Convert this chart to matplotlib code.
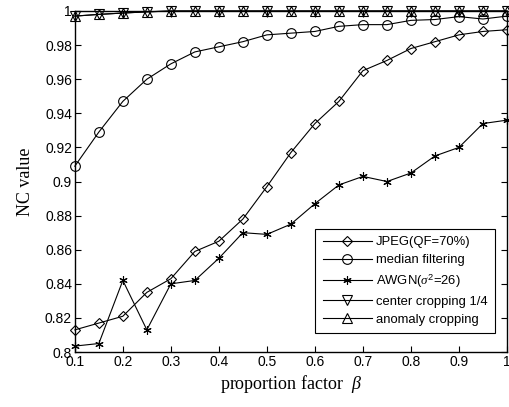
import numpy as np
import matplotlib.pyplot as plt

plt.rcParams['font.family'] = ['Liberation Sans', 'DejaVu Sans']
plt.rcParams['mathtext.fontset'] = 'custom'
plt.rcParams['mathtext.it'] = 'Liberation Serif:italic'
plt.rcParams['mathtext.rm'] = 'Liberation Sans'

# proportion factor beta
beta = [0.1, 0.15, 0.2, 0.25, 0.3, 0.35, 0.4, 0.45, 0.5, 0.55,
        0.6, 0.65, 0.7, 0.75, 0.8, 0.85, 0.9, 0.95, 1.0]

jpeg = [0.813, 0.817, 0.821, 0.835, 0.843, 0.859, 0.865, 0.878, 0.897, 0.917,
        0.934, 0.947, 0.965, 0.971, 0.978, 0.982, 0.986, 0.988, 0.989]
median = [0.909, 0.929, 0.947, 0.960, 0.969, 0.976, 0.979, 0.982, 0.986, 0.987,
          0.988, 0.991, 0.992, 0.992, 0.9945, 0.995, 0.9967, 0.9953, 0.997]
awgn = [0.8035, 0.805, 0.842, 0.813, 0.840, 0.842, 0.855, 0.870, 0.869, 0.875,
        0.887, 0.898, 0.903, 0.900, 0.905, 0.915, 0.920, 0.934, 0.936]
center = [0.997, 0.998, 0.9988, 0.9995, 1.0, 1.0, 1.0, 1.0, 1.0, 1.0,
          1.0, 1.0, 1.0, 1.0, 1.0, 1.0, 1.0, 1.0, 1.0]
anomaly = [0.997, 0.998, 0.9988, 0.9995, 1.0, 1.0, 1.0, 1.0, 1.0, 1.0,
           1.0, 1.0, 1.0, 1.0, 1.0, 1.0, 1.0, 1.0, 1.0]

fig = plt.figure(figsize=(5.09, 4.07), dpi=100)
ax = fig.add_axes([0.147, 0.135, 0.849, 0.838])

style = dict(color='k', linewidth=0.8, markerfacecolor='none',
             markeredgecolor='k', markeredgewidth=0.8, clip_on=False)
ax.plot(beta, jpeg, marker='D', markersize=5.5, label='JPEG(QF=70%)', **style)
ax.plot(beta, median, marker='o', markersize=7, label='median filtering', **style)
ax.plot(beta, awgn, marker=(6, 2, 0), markersize=6, label=r'AWGN($\sigma^2$=26)', **style)
ax.plot(beta, center, marker='v', markersize=7, label='center cropping 1/4', **style)
ax.plot(beta, anomaly, marker='^', markersize=7, label='anomaly cropping', **style)

ax.set_xlim(0.1, 1.0)
ax.set_ylim(0.8, 1.0)
ax.set_xticks(np.arange(0.1, 1.01, 0.1))
ax.set_xticklabels(['0.1', '0.2', '0.3', '0.4', '0.5', '0.6', '0.7', '0.8', '0.9', '1'])
ax.set_yticks(np.arange(0.8, 1.001, 0.02))
ax.set_yticklabels(['0.8', '0.82', '0.84', '0.86', '0.88', '0.9', '0.92',
                    '0.94', '0.96', '0.98', '1'])
ax.tick_params(direction='in', top=True, right=True, labelsize=10, length=4,
               width=0.8, pad=2)
for s in ax.spines.values():
    s.set_linewidth(1.0)

ax.set_ylabel('NC value', family='Liberation Serif', fontsize=13, labelpad=8)
ax.set_xlabel(r'proportion factor  $\it{\beta}$', family='Liberation Serif',
              fontsize=13, labelpad=3)

leg = ax.legend(loc='lower right', bbox_to_anchor=(0.972, 0.056), fontsize=9.4,
                fancybox=False, framealpha=1, edgecolor='k', handlelength=3.8,
                borderpad=0.55, labelspacing=0.45, handletextpad=0.3,
                borderaxespad=0)
leg.get_frame().set_linewidth(0.8)

fig.savefig('out.png', dpi=100)
